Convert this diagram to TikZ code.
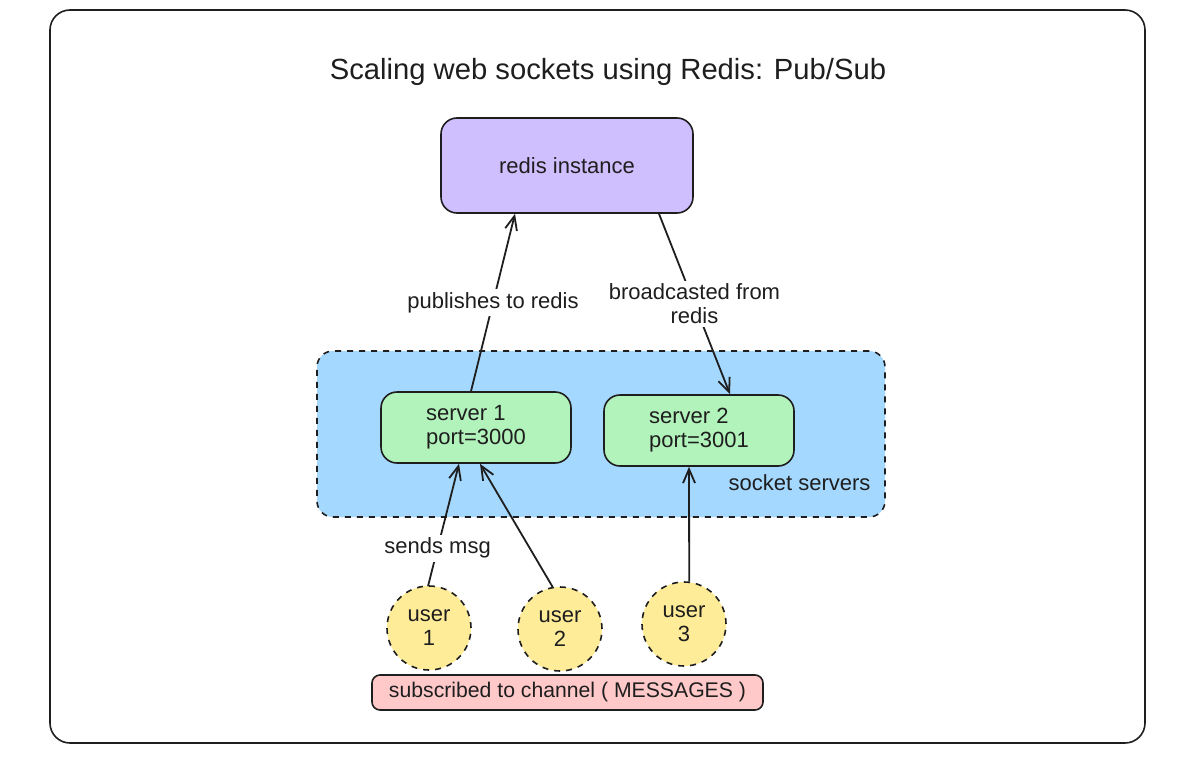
\documentclass[tikz,border=0pt]{standalone}
\usepackage{fontspec}
\setmainfont{Liberation Sans}
\usetikzlibrary{arrows.meta,calc}
\definecolor{ink}{HTML}{1E1E1E}
\definecolor{violetfill}{HTML}{D0BFFF}
\definecolor{bluefill}{HTML}{A5D8FF}
\definecolor{greenfill}{HTML}{B2F2BB}
\definecolor{yellowfill}{HTML}{FFEC99}
\definecolor{pinkfill}{HTML}{FFC9C9}
\tikzset{
  box/.style={draw=ink, line width=0.8pt, rounded corners=8pt, inner sep=0pt, text=ink, font=\fontsize{11}{12}\selectfont},
  userc/.style={circle, draw=ink, line width=0.8pt, dashed, fill=yellowfill, minimum size=42pt, inner sep=0pt, align=center, text=ink, font=\fontsize{11}{12}\selectfont},
  conn/.style={draw=ink, line width=0.9pt, -{Straight Barb[length=7pt,width=6pt,line width=0.9pt]}},
  lbl/.style={fill=white, inner sep=1.5pt, align=center, font=\fontsize{11}{12}\selectfont, text=ink},
}
\begin{document}
\begin{tikzpicture}[x=0.5pt,y=-0.5pt]
\useasboundingbox (0,0) rectangle (1199,765);
\node[draw=ink, line width=0.8pt, rounded corners=10pt, minimum width=547.5pt, minimum height=366.5pt, inner sep=0pt] (frame) at (597.5,376.5) {};
\node[text=ink, font=\fontsize{14.6}{16}\selectfont] (title) at (608,72) {Scaling web sockets using Redis: Pub/Sub};
\node[box, fill=violetfill, minimum width=126pt, minimum height=47.5pt] (redis) at (567,165.5) {redis instance};
\node[box, dashed, fill=bluefill, minimum width=284pt, minimum height=83pt] (group) at (601,434) {};
\node[text=ink, font=\fontsize{11}{12}\selectfont] (grouplbl) at (799.5,483) {socket servers};
\node[box, fill=greenfill, minimum width=95pt, minimum height=35.5pt, align=left] (s1) at (476,427.5) {server 1\\port=3000};
\node[box, fill=greenfill, minimum width=95pt, minimum height=35.5pt, align=left] (s2) at (699,430.5) {server 2\\port=3001};
\node[userc] (u1) at (429,628) {user\\1};
\node[userc] (u2) at (560,629) {user\\2};
\node[userc] (u3) at (684,624) {user\\3};
\node[box, rounded corners=4pt, fill=pinkfill, minimum width=195.5pt, minimum height=17.5pt, font=\fontsize{10.6}{12}\selectfont] (sub) at (567.5,692.5) {subscribed to channel ( MESSAGES )};
\draw[conn] ($(s1.north)+(-5,0)$) -- node[lbl, pos=0.5] {publishes to redis} ($(redis.south)+(-52,0)$);
\draw[conn] ($(redis.south)+(92,0)$) -- node[lbl, pos=0.5] {broadcasted from\\redis} ($(s2.north)+(31,0)$);
\draw[conn] ($(u1.north)+(-1,1)$) -- node[lbl, pos=0.31] {sends msg} ($(s1.south)+(-17,0)$);
\draw[conn] (u2.100) -- ($(s1.south)+(4,0)$);
\draw[conn] (u3.83) -- ($(s2.south)+(-10,0)$);
\end{tikzpicture}
\end{document}
